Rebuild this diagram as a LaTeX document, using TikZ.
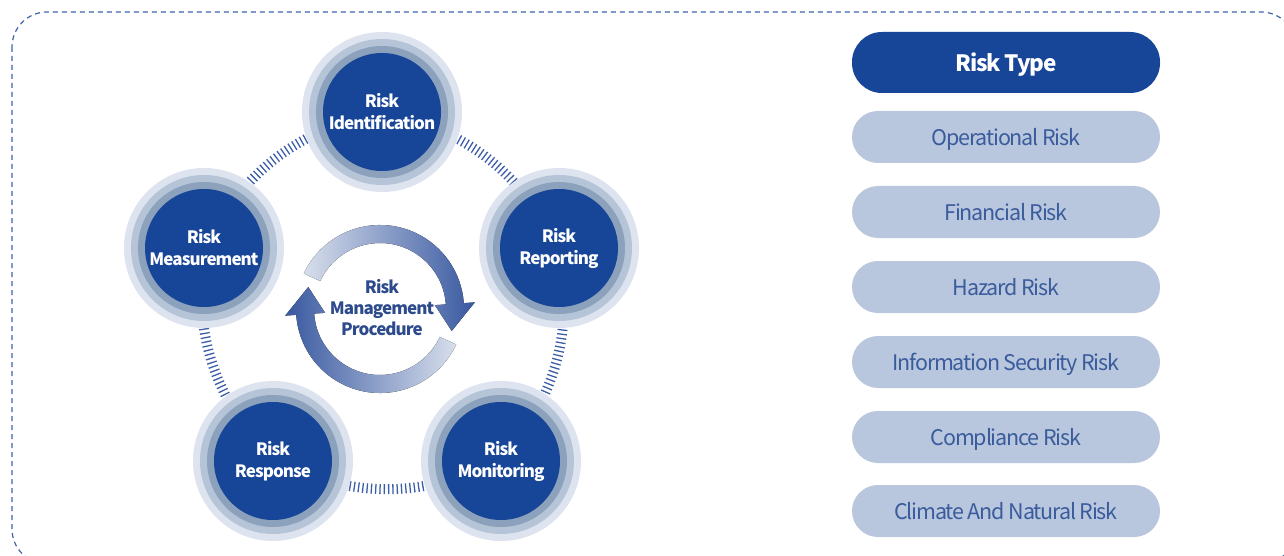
\documentclass[tikz,border=0pt]{standalone}
\usepackage{fontspec}
\setmainfont{Noto Sans CJK KR}[LetterSpace=-5.5]
\pgfdeclarelayer{bg}
\pgfsetlayers{bg,main}
\definecolor{navy}{HTML}{174597}
\definecolor{ringA}{HTML}{DDE4EF}
\definecolor{ringB}{HTML}{B6C4D7}
\definecolor{ringC}{HTML}{8CA2BC}
\definecolor{pillfill}{HTML}{B8C7DD}
\definecolor{pilltext}{HTML}{3A5B9C}
\definecolor{bordercol}{HTML}{3C64AE}
\definecolor{hatchcol}{HTML}{3B5EA6}
\definecolor{centertext}{HTML}{2C4A8C}
\definecolor{arcdark}{HTML}{3858A0}
\definecolor{arclight}{HTML}{D8DFEC}
\tikzset{
  stage/.style={circle, fill=ringA, minimum size=160pt, inner sep=0pt, text=white,
    align=center, font=\bfseries\fontsize{17}{22}\selectfont,
    path picture={
      \fill[ringB] (path picture bounding box.center) circle (73pt);
      \fill[ringC] (path picture bounding box.center) circle (66pt);
      \fill[navy] (path picture bounding box.center) circle (59pt);
    }},
  hatch/.style={draw=hatchcol, line width=10pt, dash pattern=on 1.3pt off 3pt, line cap=butt},
  headpill/.style={rectangle, rounded corners=30pt, fill=navy, minimum width=308pt,
    minimum height=61pt, text=white, text height=18pt, text depth=0pt,
    font=\bfseries\fontsize{22.5}{26}\selectfont},
  pill/.style={rectangle, rounded corners=26pt, fill=pillfill, minimum width=308pt,
    minimum height=52pt, text=pilltext, text height=17.5pt, text depth=0pt,
    font=\fontsize{21.5}{25}\selectfont},
  framebox/.style={draw=bordercol, line width=1.2pt, dash pattern=on 5pt off 4pt, rounded corners=35pt},
  centerlabel/.style={align=center, text=centertext, font=\bfseries\fontsize{17}{21}\selectfont}
}
\begin{document}
\begin{tikzpicture}[x=1pt,y=1pt]
\useasboundingbox (0,0) rectangle (1284,-556);
\clip (0,0) rectangle (1284,-556);
\begin{pgfonlayer}{bg}
\fill[white] (0,0) rectangle (1284,-556);
\end{pgfonlayer}
\draw[framebox] (12,-12) rectangle (1296,-564);

% stages
\node[stage] (ident) at (382,-112) {Risk\\Identification};
\node[stage] (report) at (559,-248) {Risk\\Reporting};
\node[stage] (monit) at (501,-461) {Risk\\Monitoring};
\node[stage] (resp) at (273,-461) {Risk\\Response};
\node[stage] (meas) at (204,-248) {Risk\\Measurement};

\begin{pgfonlayer}{bg}
\draw[hatch] (ident.center) to[bend left=25] (report.center);
\draw[hatch] (report.center) to[bend left=25] (monit.center);
\draw[hatch] (monit.center) to[bend left=25] (resp.center);
\draw[hatch] (resp.center) to[bend left=25] (meas.center);
\draw[hatch] (meas.center) to[bend left=25] (ident.center);
\end{pgfonlayer}

% centre cycle
\begin{scope}[shift={(380,-309)}]
\fill[left color=arclight, right color=arcdark]
  (155:84) arc[start angle=155, end angle=4, radius=84]
  -- (4:95) -- (-17:75) -- (4:55) -- (4:66)
  arc[start angle=4, end angle=155, radius=66] -- cycle;
\fill[left color=arcdark, right color=arclight]
  (-25:84) arc[start angle=-25, end angle=-176, radius=84]
  -- (-176:95) -- (163:75) -- (-176:55) -- (-176:66)
  arc[start angle=-176, end angle=-25, radius=66] -- cycle;
\end{scope}
\node[centerlabel] (proc) at (382,-308) {Risk\\Management\\Procedure};

% risk types
\node[headpill] (rtype) at (1006,-62.5) {Risk Type};
\node[pill] (op) at (1006,-137) {Operational Risk};
\node[pill] (fin) at (1006,-212) {Financial Risk};
\node[pill] (haz) at (1006,-287) {Hazard Risk};
\node[pill] (info) at (1006,-362) {Information Security Risk};
\node[pill] (comp) at (1006,-437) {Compliance Risk};
\node[pill] (clim) at (1006,-511) {Climate And Natural Risk};
\end{tikzpicture}
\end{document}
